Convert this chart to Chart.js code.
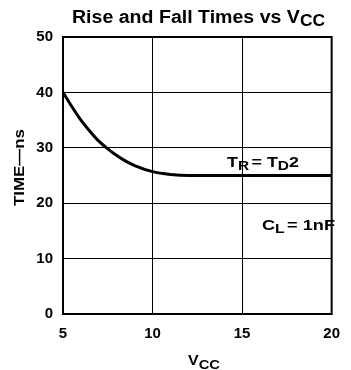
<!DOCTYPE html>
<html>
<head>
<meta charset="utf-8">
<script src="https://cdn.jsdelivr.net/npm/chart.js@4"></script>
<style>
  body { margin: 0; background: #fff; }
  canvas { display: block; }
</style>
</head>
<body>
<canvas id="myChart" width="351" height="370"></canvas>
<script>
// values
const vcc = [5, 5.5, 6, 6.5, 7, 7.5, 8, 8.5, 9, 10, 11, 12, 14, 16, 18, 20];
const time = [40, 37.4, 35, 33, 31.2, 29.8, 28.6, 27.6, 26.8, 25.7, 25.2, 25, 25, 25, 25, 25];
const xTicks = [5, 10, 15, 20];
const yTicks = [0, 10, 20, 30, 40, 50];

const FONT = "'Liberation Sans', Arial, sans-serif";

// draw text made of parts (some lowered as subscripts), squeezed/stretched to a width
function drawParts(ctx, x, y, width, parts) {
  let total = 0;
  parts.forEach((p) => {
    ctx.font = "bold " + p.size + "px " + FONT;
    total += ctx.measureText(p.text).width + (p.gap || 0);
  });
  ctx.save();
  ctx.translate(x, y);
  ctx.scale(width / total, 1);
  let cx = 0;
  parts.forEach((p) => {
    ctx.font = "bold " + p.size + "px " + FONT;
    ctx.fillText(p.text, cx, p.dy || 0);
    cx += ctx.measureText(p.text).width + (p.gap || 0);
  });
  ctx.restore();
}

const textPlugin = {
  id: "texts",
  afterDraw(chart) {
    const ctx = chart.ctx;
    const a = chart.chartArea;
    ctx.save();
    // frame
    ctx.strokeStyle = "#000";
    ctx.lineWidth = 2;
    ctx.strokeRect(a.left, a.top, a.right - a.left, a.bottom - a.top);

    ctx.fillStyle = "#000";
    ctx.textBaseline = "alphabetic";
    ctx.textAlign = "left";

    // title
    drawParts(ctx, 72, 23, 253, [
      { text: "Rise and Fall Times vs V", size: 18 },
      { text: "CC", size: 16, dy: 3 },
    ]);

    // x title
    drawParts(ctx, 188, 365, 32, [
      { text: "V", size: 14 },
      { text: "CC", size: 13, dy: 4 },
    ]);

    // annotations
    drawParts(ctx, 227, 167, 72, [
      { text: "T", size: 15 },
      { text: "R", size: 13, dy: 3, gap: 2 },
      { text: "= T", size: 15 },
      { text: "D", size: 13, dy: 3 },
      { text: "2", size: 15 },
    ]);
    drawParts(ctx, 262, 230, 73, [
      { text: "C", size: 15 },
      { text: "L", size: 13, dy: 3, gap: 2 },
      { text: "= 1nF", size: 15 },
    ]);

    // y title
    ctx.translate(24, 168);
    ctx.rotate(-Math.PI / 2);
    drawParts(ctx, -38, 0, 77, [{ text: "TIME\u2014ns", size: 15 }]);
    ctx.restore();
  },
};

const ctx = document.getElementById("myChart").getContext("2d");
const myChart = new Chart(ctx, {
  type: "line",
  data: {
    datasets: [
      {
        data: vcc.map((v, i) => ({ x: v, y: time[i] })),
        borderColor: "#000",
        borderWidth: 3,
        pointRadius: 0,
        cubicInterpolationMode: "monotone",
        fill: false,
      },
    ],
  },
  options: {
    responsive: false,
    animation: false,
    layout: { padding: { top: 37, right: 11, left: 0, bottom: 0 } },
    plugins: { legend: { display: false }, title: { display: false }, tooltip: { enabled: false } },
    scales: {
      x: {
        type: "linear",
        min: 5,
        max: 20,
        afterBuildTicks: (axis) => { axis.ticks = xTicks.map((v) => ({ value: v })); },
        afterFit: (axis) => { axis.height = 56; },
        grid: { color: "#000", lineWidth: 1, drawTicks: false },
        border: { color: "#000", width: 2 },
        ticks: { color: "#000", padding: 11, font: { family: FONT, weight: "bold", size: 15 } },
      },
      y: {
        min: 0,
        max: 50,
        afterBuildTicks: (axis) => { axis.ticks = yTicks.map((v) => ({ value: v })); },
        afterFit: (axis) => { axis.width = 63; },
        grid: { color: "#000", lineWidth: 1, drawTicks: false },
        border: { color: "#000", width: 2 },
        ticks: { color: "#000", padding: 10, font: { family: FONT, weight: "bold", size: 15 } },
      },
    },
  },
  plugins: [textPlugin],
});
</script>
</body>
</html>
